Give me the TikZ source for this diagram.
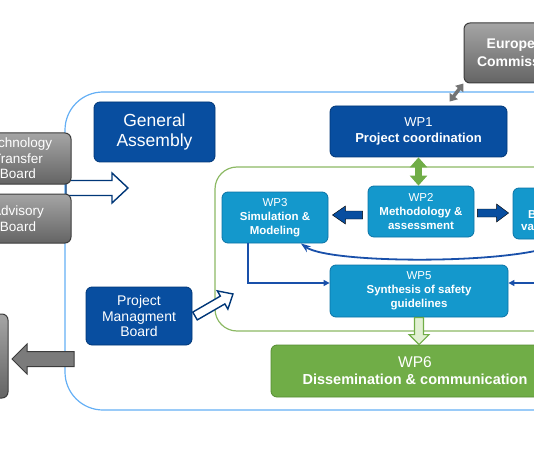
\documentclass[tikz,border=0pt]{standalone}
\usepackage{fontspec}
\setmainfont{Liberation Sans}
\usepackage{tikz}
\usetikzlibrary{arrows.meta, positioning, calc}
\definecolor{gadarkblue}{RGB}{8, 78, 160}
\definecolor{gaedge}{RGB}{0, 55, 120}
\definecolor{wpblue}{RGB}{20, 152, 204}
\definecolor{wpedge}{RGB}{10, 115, 165}
\definecolor{wpgreen}{RGB}{112, 173, 71}
\definecolor{greenedge}{RGB}{85, 140, 50}
\definecolor{framegreen}{RGB}{140, 185, 100}
\definecolor{frameblue}{RGB}{100, 175, 245}
\definecolor{boardtop}{RGB}{165, 165, 165}
\definecolor{boardbot}{RGB}{100, 100, 100}
\definecolor{boardedge}{RGB}{60, 60, 60}
\definecolor{connblue}{RGB}{25, 80, 170}
\definecolor{palegreen}{RGB}{225, 240, 210}

\newcommand{\boxfont}[2]{\fontsize{#1}{#2}\selectfont}
% fat block arrow: [style]{from}{to}{shaft half width}{head half width}{head length}
\newcommand{\fatarrow}[6][]{%
  \coordinate (fa-h) at ($(#3)!#6!(#2)$);
  \draw[#1] ($(#2)!#4!90:(#3)$) -- ($(fa-h)!#4!90:(#3)$) -- ($(fa-h)!#5!90:(#3)$)
    -- (#3) -- ($(fa-h)!#5!-90:(#3)$) -- ($(fa-h)!#4!-90:(#3)$) -- ($(#2)!#4!-90:(#3)$) -- cycle;
}

\begin{document}
\begin{tikzpicture}[x=1pt, y=-1pt,
    box/.style={
      rectangle, rounded corners=6pt, align=center, text=white,
      inner sep=2pt, line width=0.8pt
    },
    darkbox/.style={box, fill=gadarkblue, draw=gaedge},
    wpbox/.style={box, fill=wpblue, draw=wpedge,
      minimum width=106pt, minimum height=51pt, font=\boxfont{11.5}{14}},
    graybox/.style={box, top color=boardtop, bottom color=boardbot,
      draw=boardedge, line width=1pt, minimum width=106pt},
    hollow/.style={draw=gaedge, fill=white, line width=1.4pt},
    hollowgreen/.style={draw=wpgreen, fill=palegreen, line width=1.2pt},
    grayfat/.style={draw=boardedge, fill=boardbot!85!white, line width=1pt},
    solidfat/.style={fill=gadarkblue},
    conn/.style={connblue, line width=1.3pt, -{Triangle[length=6pt,width=6pt]}},
    curvearr/.style={connblue, line width=1.8pt, -{Stealth[length=10pt,width=7pt]}},
    greenarr/.style={wpgreen, line width=7pt,
      {Triangle[length=10pt,width=17pt]}-{Triangle[length=10pt,width=17pt]}},
    grayarr/.style={boardbot!90!white, line width=3.5pt,
      {Triangle[length=7pt,width=10pt]}-{Triangle[length=7pt,width=10pt]}}
  ]
  \useasboundingbox (0,0) rectangle (534,462);
  \clip (0,0) rectangle (534,462);

  % frames
  \draw[frameblue, line width=1.2pt, rounded corners=38pt] (65,92) rectangle (720,410);
  \draw[framegreen, line width=1.2pt, rounded corners=22pt] (215,167) rectangle (640,331);

  % arrow from the boards
  \coordinate (brdtail) at (66,188);
  \coordinate (brdtip) at (128,188);
  \fatarrow[hollow]{brdtail}{brdtip}{7.5pt}{15pt}{16pt}

  % boards and bodies
  \node[graybox, minimum height=51pt, font=\boxfont{13.5}{15.5}] (ttb) at (18,158.5) {Technology\\Transfer\\Board};
  \node[graybox, minimum height=49pt, font=\boxfont{13.5}{15.5}] (adv) [below=9pt of ttb] {Advisory\\Board};
  \node[graybox, minimum height=84pt] (leftbox) at (-45,356) {};
  \node[graybox, minimum width=110pt, minimum height=60pt, font=\bfseries\boxfont{14}{18}] (ec) at (519,53) {European\\Commission};
  \node[darkbox, minimum width=121pt, minimum height=60pt, font=\boxfont{17.5}{20.5}] (ga) at (154.5,132) {General\\Assembly};
  \node[darkbox, minimum width=106pt, minimum height=58pt, font=\boxfont{14}{15.5}] (pmb) at (139,316) {Project\\Managment\\Board};

  % work packages
  \node[darkbox, minimum width=177pt, minimum height=51pt, font=\boxfont{13}{15.5}] (wp1) at (418.5,131.5) {WP1\\\textbf{Project coordination}};
  \node[wpbox] (wp2) at (421,211.5) {WP2\\\textbf{Methodology \&}\\\textbf{assessment}};
  \node[wpbox] (wp3) at (275,217.5) {WP3\\\textbf{Simulation \&}\\\textbf{Modeling}};
  \node[wpbox] (wp4) at (566,213.5) {};
  \node[text=white, font=\bfseries\boxfont{11.5}{14}, inner sep=0pt, anchor=base west] (wpfoura) at (528,218) {B};
  \node[text=white, font=\bfseries\boxfont{11.5}{14}, inner sep=0pt, anchor=base west] (wpfourb) at (521,230) {va};
  \node[wpbox, minimum width=178pt, minimum height=52pt] (wp5) at (419,291) {WP5\\\textbf{Synthesis of safety}\\\textbf{guidelines}};
  \node[box, fill=wpgreen, draw=greenedge, minimum width=288pt, minimum height=52pt, font=\boxfont{14.5}{17}] (wp6) at (415,371) {{\boxfont{15.5}{17}WP6}\\\textbf{Dissemination \& communication}};

  % block arrows
  \coordinate (pmbtail) at (195,316);
  \coordinate (pmbtip) at (233,294);
  \fatarrow[hollow]{pmbtail}{pmbtip}{4.5pt}{10.5pt}{12pt}
  \coordinate (wpsixtop) at (wp5.south |- wp6.north);
  \fatarrow[hollowgreen]{wp5.south}{wpsixtop}{4.5pt}{10pt}{10pt}
  \coordinate (gtail) at (74,359);
  \coordinate (gtip) at (12,359);
  \fatarrow[grayfat]{gtail}{gtip}{7.5pt}{15pt}{15pt}
  \coordinate (twothree) at ([xshift=-5pt,yshift=-3.5pt]wp2.west);
  \coordinate (threetip) at ($(twothree -| wp3.east)+(4,0)$);
  \fatarrow[solidfat]{twothree}{threetip}{4pt}{9pt}{13pt}
  \coordinate (twofour) at ([xshift=3pt,yshift=-1.5pt]wp2.east);
  \coordinate (fourtip) at ($(twofour -| wp4.west)+(-4,0)$);
  \fatarrow[solidfat]{twofour}{fourtip}{4pt}{9pt}{12pt}

  % connectors
  \draw[greenarr] (wp1.south) -- (wp1.south |- wp2.north);
  \coordinate (ecarr) at ([xshift=31pt,yshift=4pt]wp1.north);
  \draw[grayarr] (ecarr) -- (ec.south west);
  \draw[conn] ([xshift=-27pt]wp3.south) |- ([yshift=8pt]wp5.west);
  \draw[conn] ([xshift=27pt]wp4.south) |- ([yshift=8pt]wp5.east);
  \draw[curvearr] (wp4.south) .. controls (540,265) and (330,265) .. (wp3.-45);
\end{tikzpicture}
\end{document}
